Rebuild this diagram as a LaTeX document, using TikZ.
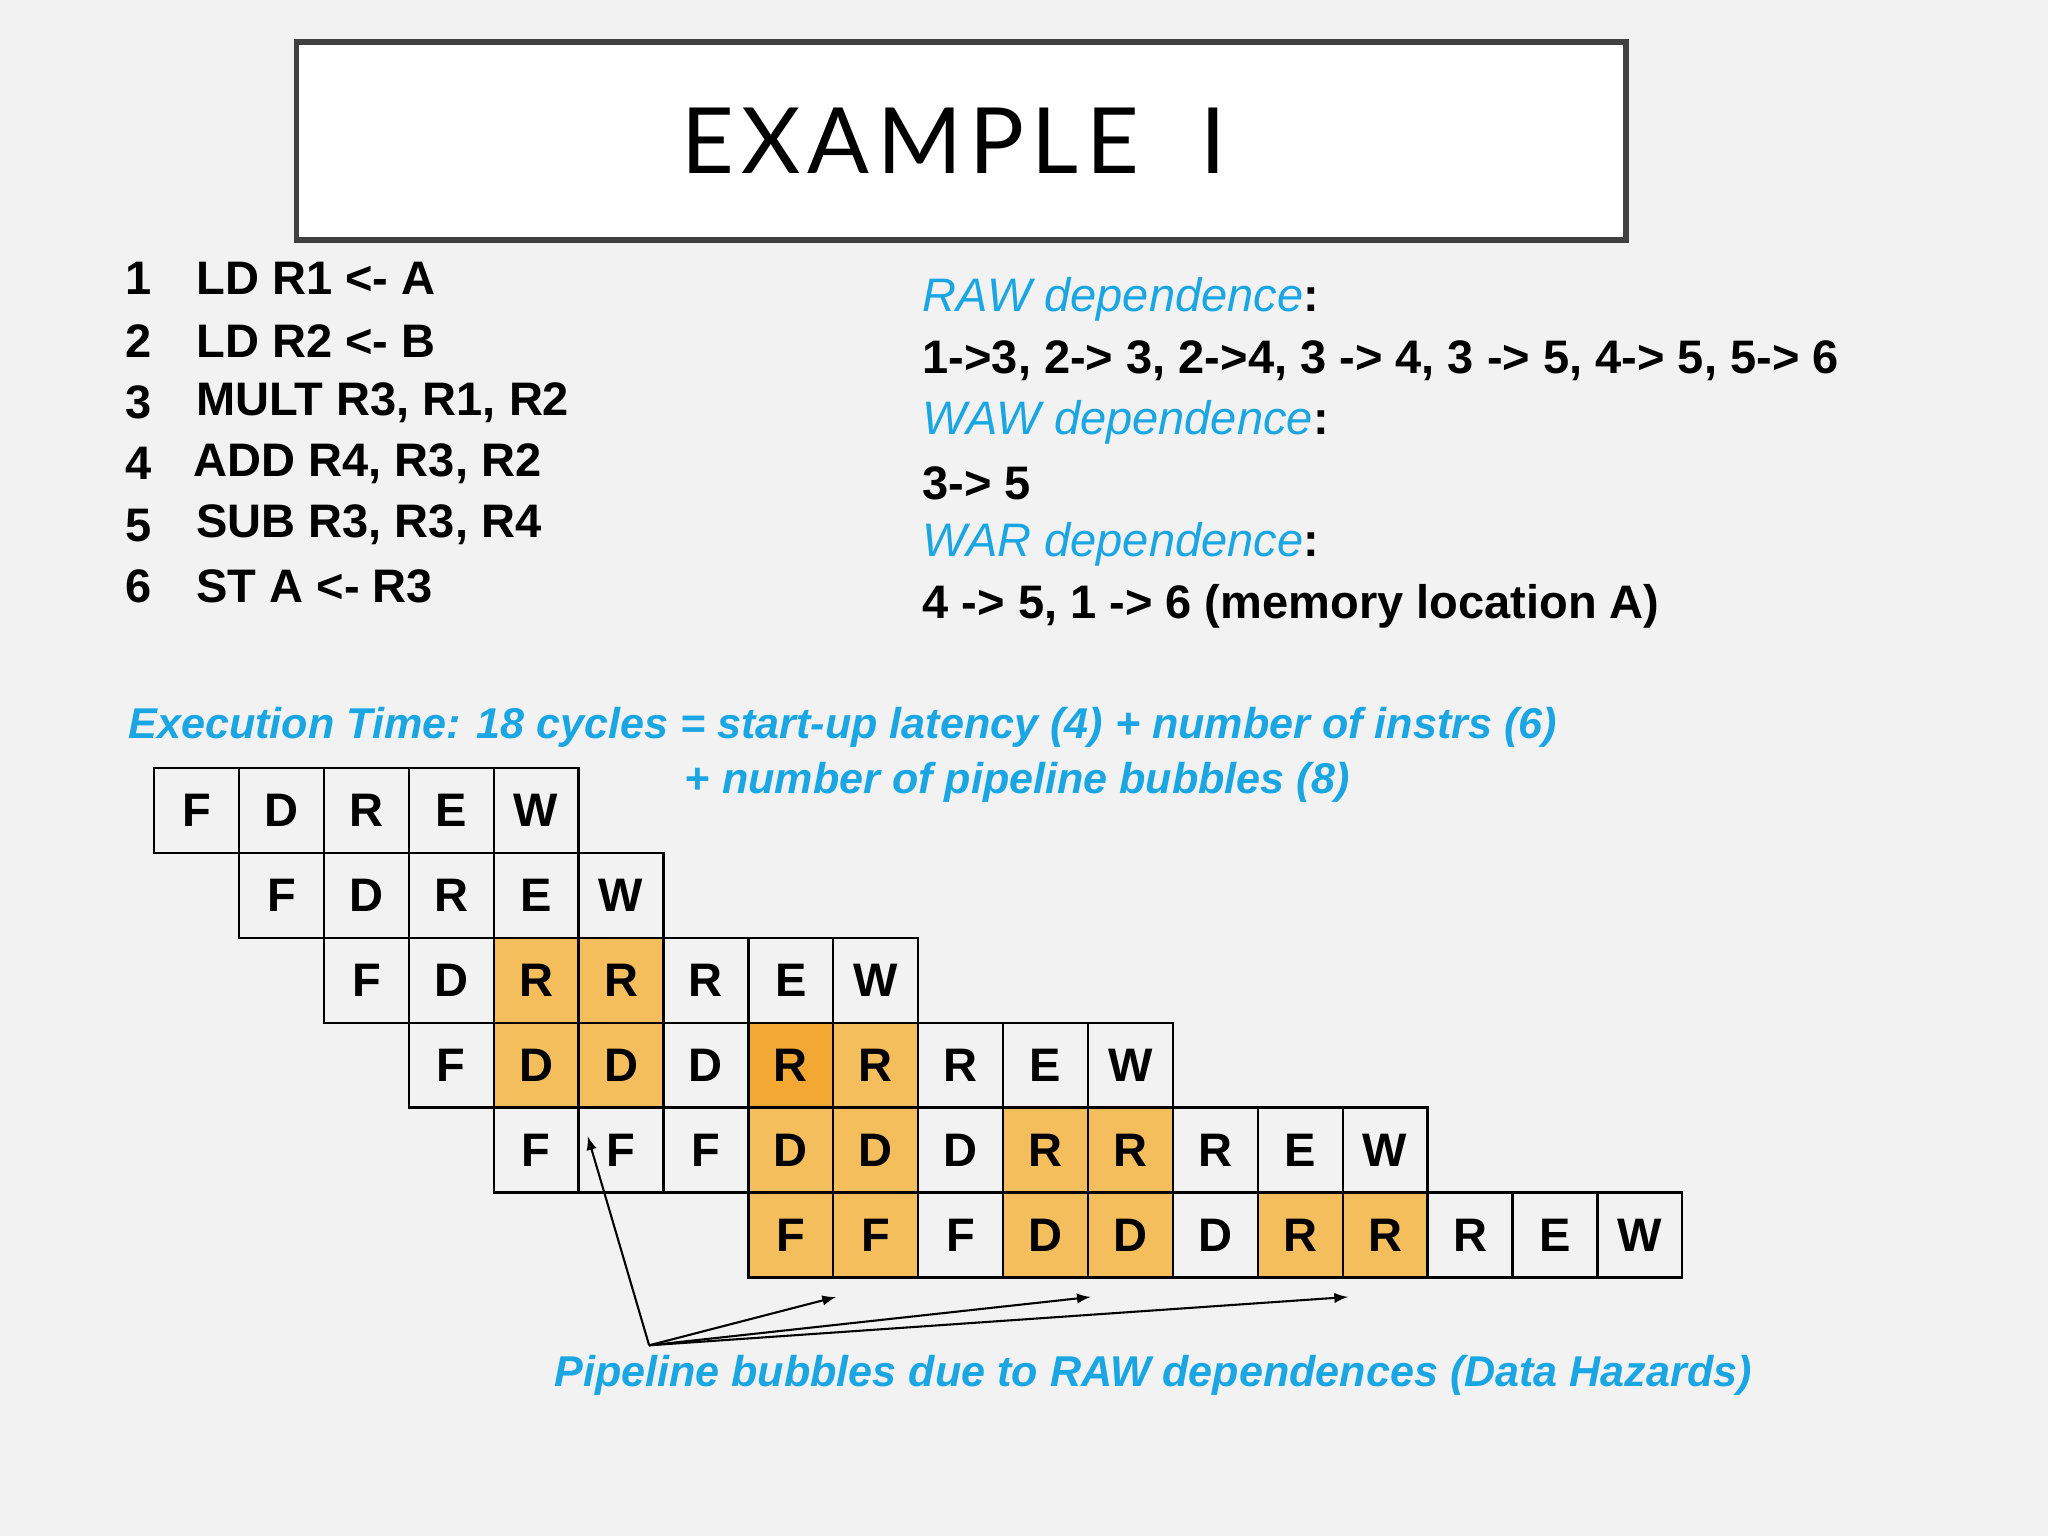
\documentclass[tikz,border=0pt]{standalone}
\usepackage{fontspec}
\setmainfont{Liberation Sans}
\newfontfamily\titlefont[LetterSpace=8]{Lato}
\definecolor{bg}{HTML}{F2F2F2}
\definecolor{cy}{HTML}{1AA6E2}
\definecolor{orn}{HTML}{F4BE5C}
\definecolor{ornd}{HTML}{F2A833}
\definecolor{frame}{HTML}{404040}
\tikzset{
 cell/.style={draw=black,line width=0.9pt,minimum width=32.5pt,minimum height=32.5pt,inner sep=0,font=\fontsize{18}{20}\selectfont\bfseries},
 txt/.style={anchor=west,inner sep=0,font=\fontsize{18}{20}\selectfont\bfseries},
 ctxt/.style={anchor=west,inner sep=0,text=cy,font=\fontsize{18}{20}\selectfont\itshape},
 btxt/.style={anchor=west,inner sep=0,text=cy,font=\fontsize{16.5}{19}\selectfont\bfseries\itshape},
 arr/.style={-latex,line width=0.8pt}
}
\begin{document}
\begin{tikzpicture}[x=0.5pt,y=-0.5pt]
\fill[bg] (0,0) rectangle (1568,1176);
\useasboundingbox (0,0) rectangle (1568,1176);
\node[draw=frame,fill=white,line width=2.2pt,minimum width=509pt,minimum height=76pt,inner sep=0] (title) at (736,108) {};
\node[font=\fontsize{35}{40}\selectfont\titlefont] (tt) at (730,108) {EXAMPLE\ \ I};
% listing
\foreach \n/\y in {1/213,2/261,3/308,4/355,5/402,6/449}{
 \node[txt] (n\n) at (96,\y) {\n};
}
\node[txt] (i1) at (150,213) {LD R1 <- A};
\node[txt] (i2) at (150,261) {LD R2 <- B};
\node[txt] (i3) at (150,308) {MULT R3, R1, R2};
\node[txt] (i4) at (148,355) {ADD R4, R3, R2};
\node[txt] (i5) at (150,402) {SUB R3, R3, R4};
\node[txt] (i6) at (150,449) {ST A <- R3};
\node[ctxt] (raw) at (706,229) {RAW dependence\textcolor{black}{\bfseries\upshape:}};
\node[txt] (rawl) at (706,276) {1->3, 2-> 3, 2->4, 3 -> 4, 3 -> 5, 4-> 5, 5-> 6};
\node[ctxt] (waw) at (706,323) {WAW dependence\textcolor{black}{\bfseries\upshape:}};
\node[txt] (wawl) at (706,370) {3-> 5};
\node[ctxt] (war) at (706,417) {WAR dependence\textcolor{black}{\bfseries\upshape:}};
\node[txt] (warl) at (706,464) {4 -> 5, 1 -> 6 (memory location A)};
\node[btxt] (ex1) at (98,557) {Execution Time: 18 cycles = start-up latency (4) + number of instrs (6)};
\node[btxt] (ex2) at (524,599) {+ number of pipeline bubbles (8)};
% grid
\newcommand{\crow}[3]{%
 \foreach \L [count=\k from 0] in {#3}{
  \pgfmathtruncatemacro{\c}{#2+\k}
  \node[cell] (c#1-\c) at ({118+65*\c+32.5},{588+65*#1+32.5}) {\L};
 }}
\foreach \r/\c/\col in {2/4/orn,2/5/orn,3/4/orn,3/5/orn,3/7/ornd,3/8/orn,4/7/orn,4/8/orn,4/10/orn,4/11/orn,5/7/orn,5/8/orn,5/10/orn,5/11/orn,5/13/orn,5/14/orn}{
 \fill[\col] ({118+65*\c},{588+65*\r}) rectangle ++(65,65);
}
\crow{0}{0}{F,D,R,E,W}
\crow{1}{1}{F,D,R,E,W}
\crow{2}{2}{F,D,R,R,R,E,W}
\crow{3}{3}{F,D,D,D,R,R,R,E,W}
\crow{4}{4}{F,F,F,D,D,D,R,R,R,E,W}
\crow{5}{7}{F,F,F,D,D,D,R,R,R,E,W}
% arrows
\coordinate (src) at (497,1030);
\coordinate (a1) at (450,870);
\coordinate (a2) at (640,993);
\coordinate (a3) at (835,993);
\coordinate (a4) at (1032,993);
\foreach \a in {a1,a2,a3,a4} \draw[arr] (src) -- (\a);
\node[btxt] (pb) at (424,1053) {Pipeline bubbles due to RAW dependences (Data Hazards)};
\end{tikzpicture}
\end{document}
